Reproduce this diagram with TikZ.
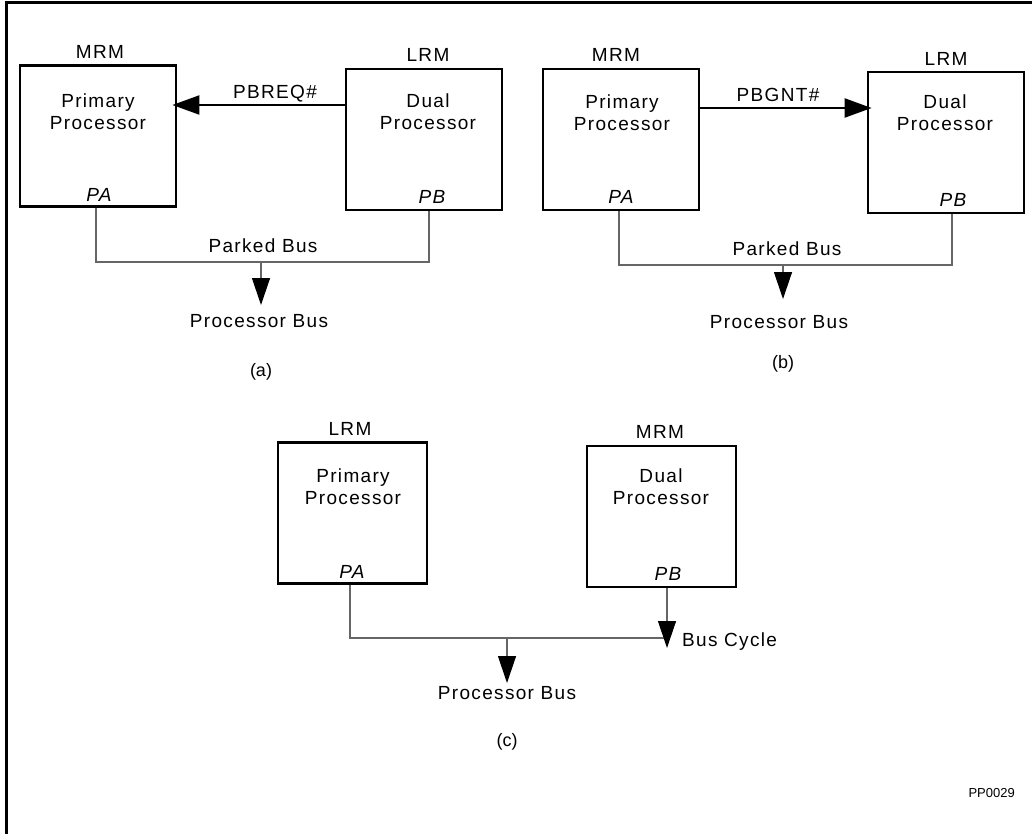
\documentclass[tikz,border=0pt]{standalone}
\usepackage{fontspec}
\setmainfont{Liberation Sans}
\newfontfamily\spaced{Liberation Sans}[LetterSpace=7]
\usetikzlibrary{arrows.meta}
\begin{document}
\begin{tikzpicture}[x=1pt,y=-1pt,
  box/.style={draw, line width=2.8pt, minimum width=156pt, minimum height=141pt, inner sep=0pt},
  lbl/.style={font=\spaced\fontsize{19}{22}\selectfont, inner sep=0pt, align=center},
  tag/.style={lbl, anchor=base},
  port/.style={tag, font=\spaced\fontsize{19}{22}\selectfont\itshape},
  subcap/.style={anchor=base, inner sep=0pt, font=\fontsize{18}{22}\selectfont},
  bus/.style={draw=black!60, line width=1.3pt},
  busarrow/.style={bus, -{Triangle[length=27pt,width=18pt,color=black]}},
  sig/.style={line width=2.2pt, -{Triangle[length=27pt,width=19pt]}}]
\useasboundingbox (0,0) rectangle (1032,834);
\draw[line width=3pt] (6,834) -- (6,2.5) -- (1032,2.5);

% ---------- (a) ----------
\node[box] (p1) at (98,136) {};
\node[box] (d1) at (424,139.5) {};
\node[lbl] (p1t) at (98,111.5) {Primary\\Processor};
\node[lbl] (d1t) at (428,111.5) {Dual\\Processor};
\node[tag] (p1m) at (100,59) {MRM};
\node[tag] (d1m) at (428,62) {LRM};
\node[port] (p1p) at (99,202) {PA};
\node[port] (d1p) at (432,204) {PB};
\node[tag] (reqa) at (275,99) {PBREQ\#};
\draw[sig] (d1.west |- 0,105) -- ([xshift=-5pt]p1.east |- 0,105);
\coordinate (ja) at (261,262);
\coordinate (oa) at (261,305);
\draw[bus] ([xshift=-2pt]p1.south) |- (ja) -| ([xshift=5pt]d1.south);
\draw[busarrow] (ja) -- (oa);
\node[tag] (pka) at (263,252) {Parked Bus};
\node[tag] (pba) at (259,327) {Processor Bus};
\node[subcap] (capa) at (261,376) {(a)};

% ---------- (b) ----------
\node[box] (p2) at (621,139.5) {};
\node[box] (d2) at (946,142.5) {};
\node[lbl] (p2t) at (622,112.5) {Primary\\Processor};
\node[lbl] (d2t) at (945,112.5) {Dual\\Processor};
\node[tag] (p2m) at (616,62) {MRM};
\node[tag] (d2m) at (946,66) {LRM};
\node[port] (p2p) at (621,204) {PA};
\node[port] (d2p) at (953,207) {PB};
\node[tag] (gntb) at (778,102) {PBGNT\#};
\draw[sig] (p2.east |- 0,108) -- ([xshift=5pt]d2.west |- 0,108);
\coordinate (jb) at (783,265);
\coordinate (ob) at (783,299);
\draw[bus] ([xshift=-2pt]p2.south) |- (jb) -| ([xshift=6pt]d2.south);
\draw[busarrow] (jb) -- (ob);
\node[tag] (pkb) at (787,255) {Parked Bus};
\node[tag] (pbb) at (779,328) {Processor Bus};
\node[subcap] (capb) at (783,368) {(b)};

% ---------- (c) ----------
\node[box, minimum width=149pt] (p3) at (352.5,513) {};
\node[box, minimum width=149pt] (d3) at (661.5,516.5) {};
\node[lbl] (p3t) at (353,486.5) {Primary\\Processor};
\node[lbl] (d3t) at (661,486.5) {Dual\\Processor};
\node[tag] (p3m) at (350,435) {LRM};
\node[tag] (d3m) at (660,438) {MRM};
\node[port] (p3p) at (352,578) {PA};
\node[port] (d3p) at (668,580) {PB};
\coordinate (jc) at (507,638);
\coordinate (kc) at (667,638);
\coordinate (tc) at (667,648);
\coordinate (oc) at (507,683);
\draw[bus] ([xshift=-2.5pt]p3.south) |- (kc);
\draw[busarrow] ([xshift=5.5pt]d3.south) -- (tc);
\draw[busarrow] (jc) -- (oc);
\node[tag, anchor=base west] (bcc) at (682,646) {Bus Cycle};
\node[tag] (pbc) at (507,699) {Processor Bus};
\node[subcap] (capc) at (507,746) {(c)};

\node[anchor=base east, inner sep=0pt, font=\fontsize{13}{15}\selectfont] (id) at (1015,797) {PP0029};
\end{tikzpicture}
\end{document}
